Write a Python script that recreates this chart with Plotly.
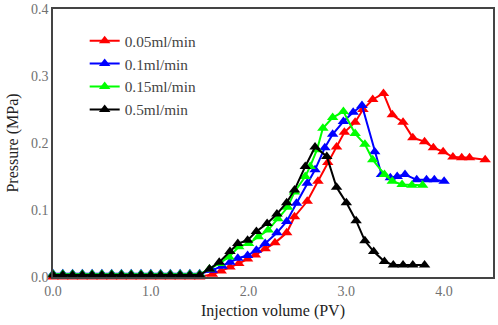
import plotly.graph_objects as go

flat_x = [0.0, 0.1, 0.2, 0.3, 0.4, 0.5, 0.6, 0.7, 0.8, 0.9, 1.0, 1.1, 1.2, 1.3, 1.4, 1.5]

red_x = flat_x + [1.63, 1.72, 1.81, 1.90, 1.99, 2.07, 2.17, 2.27, 2.39, 2.47, 2.60, 2.71, 2.81, 2.90,
                  2.98, 3.09, 3.17, 3.27, 3.38, 3.47, 3.58, 3.68, 3.80, 3.89, 3.99, 4.09, 4.18, 4.26, 4.42]
red_y = [0.0] * 16 + [0.004, 0.009, 0.015, 0.020, 0.027, 0.033, 0.042, 0.051, 0.066, 0.090, 0.113, 0.143,
                      0.171, 0.194, 0.216, 0.231, 0.250, 0.265, 0.274, 0.242, 0.231, 0.208, 0.202, 0.193,
                      0.187, 0.179, 0.178, 0.178, 0.175]

blue_x = flat_x + [1.63, 1.73, 1.81, 1.89, 1.99, 2.08, 2.17, 2.29, 2.39, 2.49, 2.60, 2.68, 2.78, 2.86,
                   2.97, 3.07, 3.16, 3.29, 3.36, 3.45, 3.52, 3.60, 3.72, 3.82, 3.90, 4.00]
blue_y = [0.005] * 16 + [0.010, 0.016, 0.022, 0.028, 0.032, 0.040, 0.050, 0.066, 0.083, 0.110, 0.140,
                         0.160, 0.193, 0.213, 0.232, 0.246, 0.256, 0.187, 0.153, 0.148, 0.150, 0.153,
                         0.145, 0.145, 0.145, 0.143]

green_x = flat_x + [1.60, 1.70, 1.80, 1.90, 2.00, 2.10, 2.20, 2.30, 2.40, 2.47, 2.58, 2.63, 2.70, 2.76,
                    2.86, 2.97, 3.09, 3.19, 3.27, 3.39, 3.47, 3.57, 3.67, 3.78]
green_y = [0.004] * 16 + [0.012, 0.020, 0.030, 0.045, 0.050, 0.060, 0.070, 0.087, 0.104, 0.127, 0.150,
                          0.165, 0.190, 0.222, 0.238, 0.247, 0.214, 0.198, 0.175, 0.153, 0.143, 0.138,
                          0.137, 0.137]

black_x = flat_x + [1.60, 1.70, 1.81, 1.89, 1.99, 2.08, 2.19, 2.29, 2.39, 2.47, 2.58, 2.68, 2.80, 2.90,
                    3.00, 3.10, 3.19, 3.28, 3.39, 3.48, 3.58, 3.68, 3.80]
black_y = [0.003] * 16 + [0.012, 0.022, 0.038, 0.050, 0.055, 0.068, 0.080, 0.094, 0.111, 0.130, 0.165,
                          0.194, 0.180, 0.134, 0.111, 0.084, 0.054, 0.038, 0.023, 0.018, 0.018, 0.018,
                          0.018]

series = [
    ("0.05ml/min", red_x, red_y, "#ff0000"),
    ("0.1ml/min", blue_x, blue_y, "#0000ff"),
    ("0.15ml/min", green_x, green_y, "#00ff00"),
    ("0.5ml/min", black_x, black_y, "#000000"),
]

x_ticks = [0, 1, 2, 3, 4]
y_ticks = [0.0, 0.1, 0.2, 0.3, 0.4]

font = "Liberation Serif, Times New Roman, serif"

fig = go.Figure()
for name, xs, ys, col in series:
    fig.add_trace(go.Scatter(
        x=xs, y=ys, name=name, mode="lines+markers",
        line=dict(color=col, width=2),
        marker=dict(symbol="triangle-up", size=10, color=col),
        cliponaxis=False,
    ))

fig.update_layout(
    width=498, height=325,
    margin=dict(l=53, r=5, t=9, b=48),
    plot_bgcolor="white", paper_bgcolor="white",
    font=dict(family=font, size=13, color="#333333"),
    showlegend=True,
    legend=dict(x=0.072, y=0.943, xanchor="left", yanchor="top",
                bgcolor="rgba(0,0,0,0)", font=dict(family=font, size=15.3, color="#444444"),
                tracegroupgap=0),
    xaxis=dict(range=[0, 4.5], tickvals=x_ticks, tickformat=".1f", showgrid=False, zeroline=False,
               automargin=False,
               showline=True, mirror=True, linecolor="#444444", linewidth=1.5, ticks="",
               tickfont=dict(family=font, color="#707070", size=14),
               title=dict(text="Injection volume (PV)", font=dict(family=font, size=16, color="#222222"), standoff=7)),
    yaxis=dict(range=[0, 0.4], tickvals=y_ticks, tickformat=".1f", showgrid=False, zeroline=False,
               automargin=False,
               showline=True, mirror=True, linecolor="#444444", linewidth=1.5, ticks="",
               tickfont=dict(family=font, color="#707070", size=14),
               title=dict(text="Pressure (MPa)", font=dict(family=font, size=16, color="#222222"), standoff=8)),
)

fig.write_html("out.html", config={"displayModeBar": False},
               post_script="document.body.style.margin='0';document.body.style.overflow='hidden';")
